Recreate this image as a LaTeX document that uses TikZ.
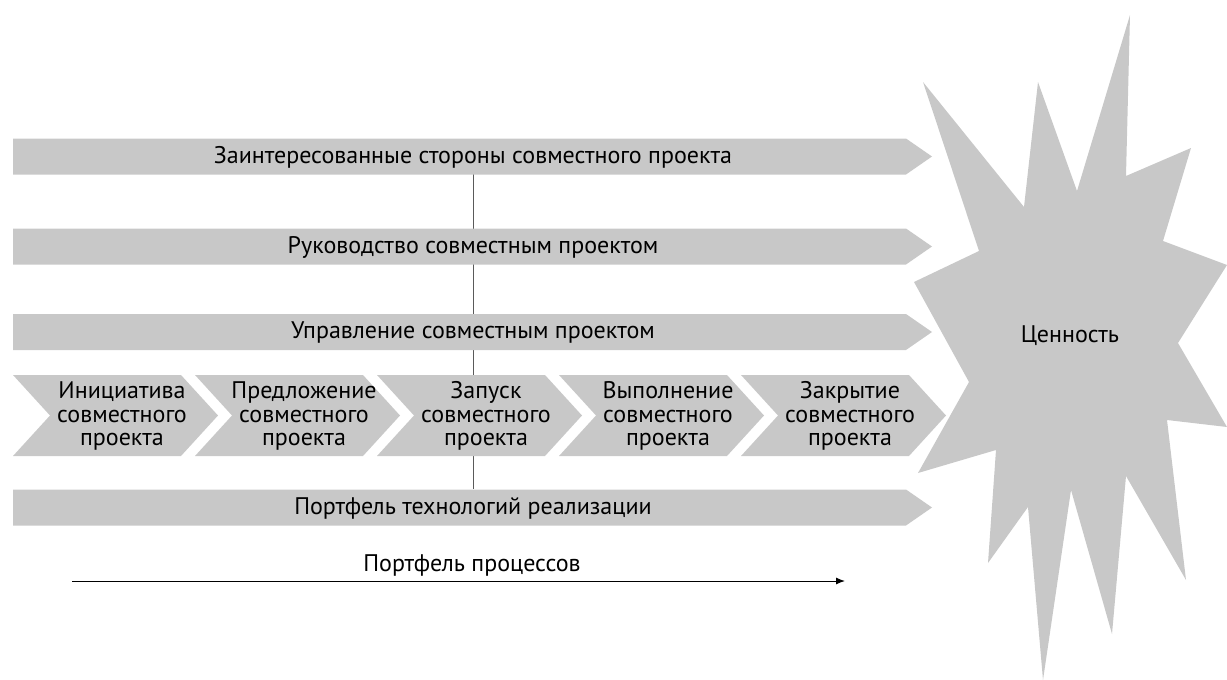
\documentclass[tikz,border=0pt]{standalone}
\usepackage{fontspec}
\setmainfont{PT Sans}
\usetikzlibrary{arrows.meta}
\definecolor{shapegray}{RGB}{200,200,200}
\definecolor{linegray}{RGB}{90,90,90}
\tikzset{
  shapefill/.style={fill=shapegray},
  bartext/.style={font=\fontsize{24}{24}\selectfont, inner sep=0pt, anchor=center},
  chevtext/.style={font=\fontsize{24}{23.7}\selectfont, align=center, inner sep=0pt, anchor=center},
  vline/.style={draw=linegray, line width=0.8pt},
}
\begin{document}
\begin{tikzpicture}[x=1pt,y=-1pt]
\useasboundingbox (0,0) rectangle (1227,680);
% vertical connector behind
\coordinate (vtop) at (473,174);
\coordinate (vbot) at (473,489);
\draw[vline] (vtop) -- (vbot);
% star
\fill[shapegray] (1130,15) -- (1126,176) -- (1191,148) -- (1163,241) -- (1227,265) -- (1178,343)
 -- (1227,427) -- (1167,420) -- (1186,580) -- (1126,476) -- (1112,634) -- (1071,490)
 -- (1043,680) -- (1028,507) -- (988,563) -- (996,450) -- (918,473) -- (969,382)
 -- (914,282) -- (979,251) -- (923,82) -- (1024,207) -- (1038,82) -- (1077,191) -- cycle;
\node[bartext] (val) at (1070,336) {Ценность};
% bars
\foreach \yc in {156.5, 246.5, 332, 507.5}{
  \fill[shapegray] (13,\yc-18) -- (906,\yc-18) -- (932,\yc) -- (906,\yc+18) -- (13,\yc+18) -- cycle;
}
\node[bartext] (b1) at (473,157) {Заинтересованные стороны совместного проекта};
\node[bartext] (b2) at (473,247) {Руководство совместным проектом};
\node[bartext] (b3) at (473,332) {Управление совместным проектом};
\node[bartext] (b5) at (473,508) {Портфель технологий реализации};
% chevrons
\foreach \i in {0,...,4}{
  \pgfmathsetmacro{\sx}{13+182*\i}
  \fill[shapegray] (\sx,375) -- (\sx+168,375) -- (\sx+205,415.5) -- (\sx+168,456) -- (\sx,456) -- (\sx+37,415.5) -- cycle;
}
\node[chevtext] (c1) at (122,416) {Инициатива\\совместного\\проекта};
\node[chevtext] (c2) at (304,416) {Предложение\\совместного\\проекта};
\node[chevtext] (c3) at (486,416) {Запуск\\совместного\\проекта};
\node[chevtext] (c4) at (668,416) {Выполнение\\совместного\\проекта};
\node[chevtext] (c5) at (850,416) {Закрытие\\совместного\\проекта};
% bottom arrow
\coordinate (as) at (72,581);
\coordinate (ae) at (845,581);
\draw[line width=1pt, -{Latex[length=9pt,width=7pt]}] (as) -- (ae);
\node[bartext] (pp) at (472,565) {Портфель процессов};
\end{tikzpicture}
\end{document}
